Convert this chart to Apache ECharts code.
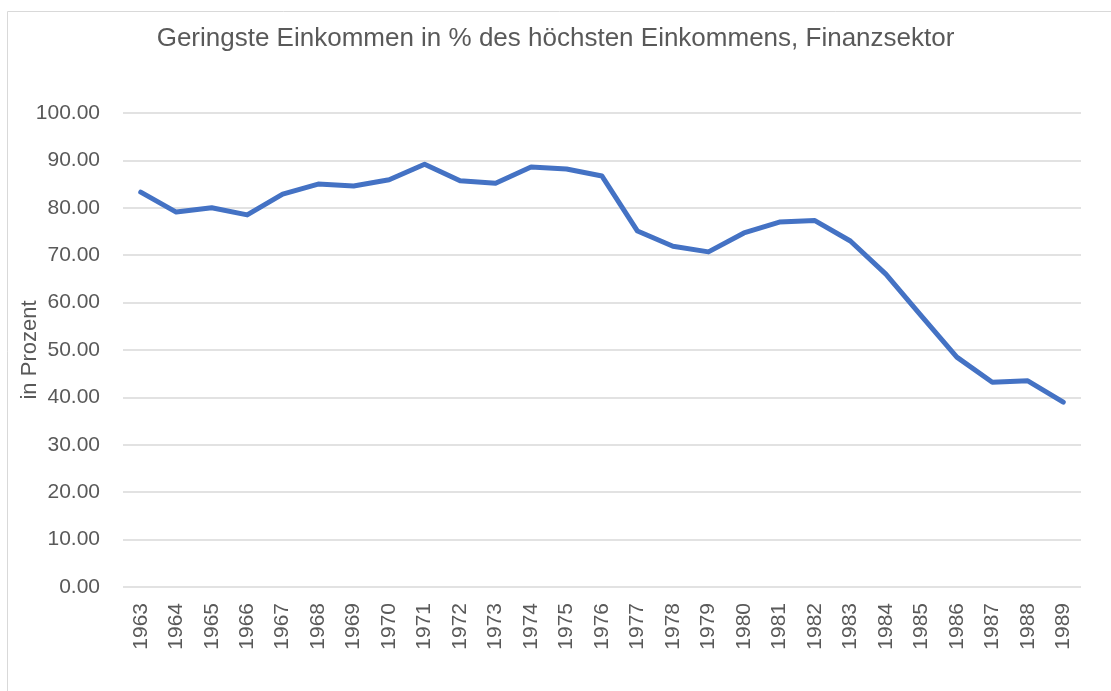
<!DOCTYPE html>
<html>
	<head>
		<meta charset="utf-8">
		<title>Geringste Einkommen</title>
		<script src="https://cdn.jsdelivr.net/npm/echarts@6/dist/echarts.min.js"></script>
		<style>
			html, body { margin: 0; padding: 0; background: #fff; }
			#myChart { width: 1111px; height: 691px; }
		</style>
	</head>
	<body>
		<div id="myChart"></div>
	</body>
	<script type="text/javascript">
	var years = ['1963','1964','1965','1966','1967','1968','1969','1970','1971','1972','1973','1974','1975',
		'1976','1977','1978','1979','1980','1981','1982','1983','1984','1985','1986','1987','1988','1989'];
	var prozent = [83.3, 79.1, 80.0, 78.5, 82.9, 85.0, 84.6, 85.9, 89.2, 85.7, 85.2, 88.6, 88.2,
		86.7, 75.1, 71.9, 70.7, 74.7, 77.0, 77.3, 73.0, 66.0, 57.2, 48.5, 43.2, 43.5, 39.0];

	var chartDom = document.getElementById('myChart');
	var myChart = echarts.init(chartDom);
	var font = 'Liberation Sans';

	var option = {
		animation: false,
		title: {
			text: 'Geringste Einkommen in % des höchsten Einkommens, Finanzsektor',
			left: 'center',
			top: 21,
			textStyle: { fontFamily: font, fontSize: 26, fontWeight: 'normal', color: '#595959' }
		},
		graphic: [{
			type: 'rect',
			shape: { x: 7.5, y: 11.5, width: 1200, height: 800 },
			style: { fill: 'none', stroke: '#d9d9d9', lineWidth: 1 },
			silent: true
		}],
		grid: { left: 123, right: 30, top: 113, bottom: 104 },
		xAxis: {
			type: 'category',
			data: years,
			boundaryGap: true,
			axisLine: { show: false },
			axisTick: { show: false },
			axisLabel: { rotate: 90, margin: 16, fontFamily: font, fontSize: 21, color: '#595959' }
		},
		yAxis: {
			type: 'value',
			min: 0,
			max: 100,
			interval: 10,
			name: 'in Prozent',
			nameLocation: 'middle',
			nameGap: 82,
			nameMoveOverlap: false,
			nameTextStyle: { fontFamily: font, fontSize: 22, color: '#595959' },
			axisLabel: {
				margin: 23,
				fontFamily: font, fontSize: 21, color: '#595959',
				formatter: function (v) { return v.toFixed(2); }
			},
			splitLine: { lineStyle: { color: '#d9d9d9', width: 1.5 } }
		},
		series: [{
			type: 'line',
			data: prozent,
			symbol: 'none',
			lineStyle: { color: '#4472c4', width: 5, cap: 'round', join: 'round' }
		}]
	};
	myChart.setOption(option);
	</script>
</html>
